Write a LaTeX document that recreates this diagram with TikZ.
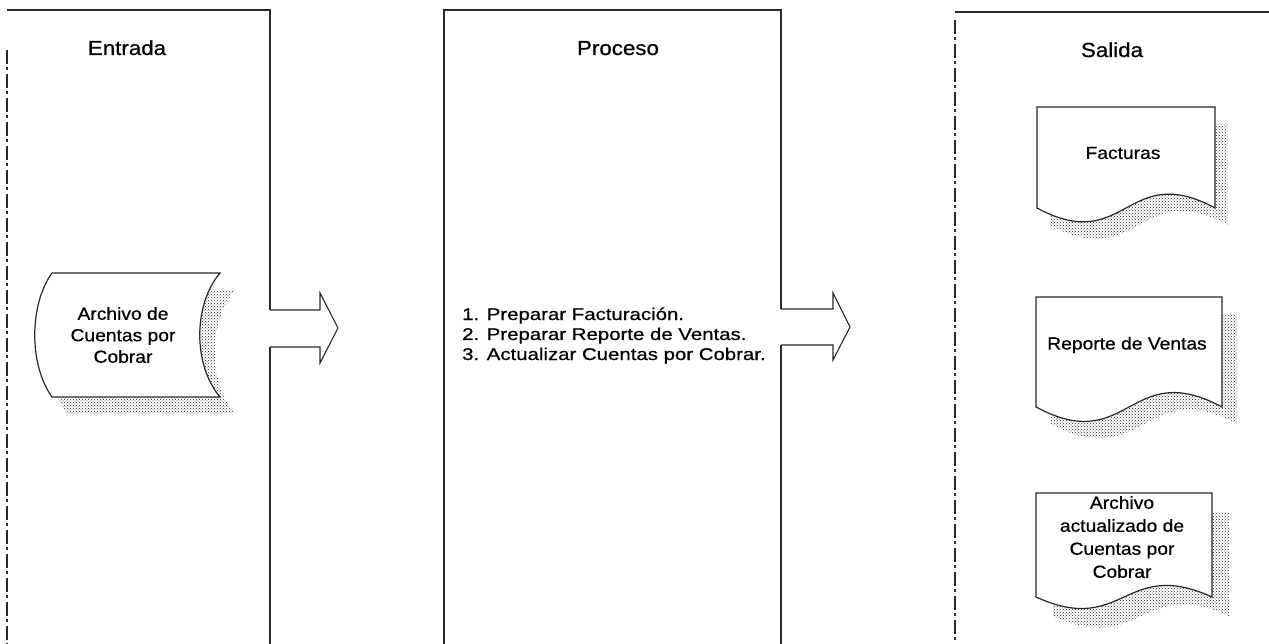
\documentclass[tikz,border=0pt]{standalone}
\usepackage{xcolor}
\usepackage{fontspec}
\setmainfont{Liberation Sans}[FakeStretch=1.1, FakeBold=0.6]
\newfontfamily\pasofont{Liberation Sans}[FakeStretch=1.2, FakeBold=0.6]
\usepackage{tikz}
\usetikzlibrary{patterns,positioning}
\definecolor{linegray}{RGB}{40,40,40}
\newcommand{\archivoborde}{(52,273) -- (220,273) .. controls (193,305) and (193,365) .. (220,397) -- (52,397) .. controls (29,365) and (29,305) .. (52,273) -- cycle}

\begin{document}
\begin{tikzpicture}[x=1pt, y=-1pt,
  panel/.style={draw=linegray, line width=1.3pt},
  panelleft/.style={draw=linegray, line width=1.1pt, dash pattern=on 14pt off 3pt on 3pt off 4pt},
  flecha/.style={draw=linegray, line width=1.1pt, line join=miter},
  doc/.style={draw=linegray, line width=1.2pt, fill=white},
  sombra/.style={pattern=crosshatch dots, pattern color=black!85},
  titulo/.style={font=\fontsize{20.3}{24}\selectfont, anchor=base, inner sep=0pt},
  doctext/.style={font=\fontsize{17.5}{21.5}\selectfont, align=center, inner sep=0pt},
  paso/.style={font=\pasofont\fontsize{17}{20}\selectfont, anchor=base west, inner sep=0pt}
]
\useasboundingbox (0,0) rectangle (1269,644);

% Entrada
\draw[panel] (7,10) -- (270,10) -- (270,310);
\draw[panel] (270,347) -- (270,644);
\draw[panelleft] (7,50) -- (7,644);
\node[titulo] (entrada) at (127,55) {Entrada};
\fill[sombra, shift={(15,17)}] \archivoborde;
\draw[doc] \archivoborde;
\node[doctext] (archivo) at (123,335) {Archivo de\\Cuentas por\\Cobrar};
\draw[flecha] (270,310) -- (320,310) -- (320,293) -- (338,328) -- (320,363) -- (320,347) -- (270,347);

% Proceso
\draw[panel] (444,644) -- (444,10) -- (781,10) -- (781,309);
\draw[panel] (781,345) -- (781,644);
\node[titulo] (proceso) at (618,55) {Proceso};
\node[paso] (paso1) at (462,320) {1. Preparar Facturación.};
\node[paso] (paso2) at (462,340) {2. Preparar Reporte de Ventas.};
\node[paso] (paso3) at (462,360) {3. Actualizar Cuentas por Cobrar.};
\draw[flecha] (781,309) -- (833,309) -- (833,293) -- (850,327) -- (833,360) -- (833,345) -- (781,345);

% Salida
\draw[panel] (955,12) -- (1269,12);
\draw[panelleft] (955,20) -- (955,644);
\node[titulo] (salida) at (1112,57) {Salida};
\foreach \l/\t/\r/\b/\d/\sx/\sy in {1037/107/1215/208/48/13/17, 1036/297/1222/407/50/15/17, 1036/493/1212/597/40/17/19} {
  \fill[sombra, shift={(\sx,\sy)}] (\l,\t) -- (\r,\t) -- (\r,\b) .. controls ({(\l+\r)/2},\b-\d) and ({(\l+\r)/2},\b+\d) .. (\l,\b) -- cycle;
  \draw[doc] (\l,\t) -- (\r,\t) -- (\r,\b) .. controls ({(\l+\r)/2},\b-\d) and ({(\l+\r)/2},\b+\d) .. (\l,\b) -- cycle;
}
\node[doctext] (facturas) at (1123,153) {Facturas};
\node[doctext] (reporte) at (1127,345) {Reporte de Ventas};
\node[doctext, font=\fontsize{17.5}{23}\selectfont] (actualizado) at (1122,537) {Archivo\\actualizado de\\Cuentas por\\Cobrar};
\end{tikzpicture}
\end{document}
